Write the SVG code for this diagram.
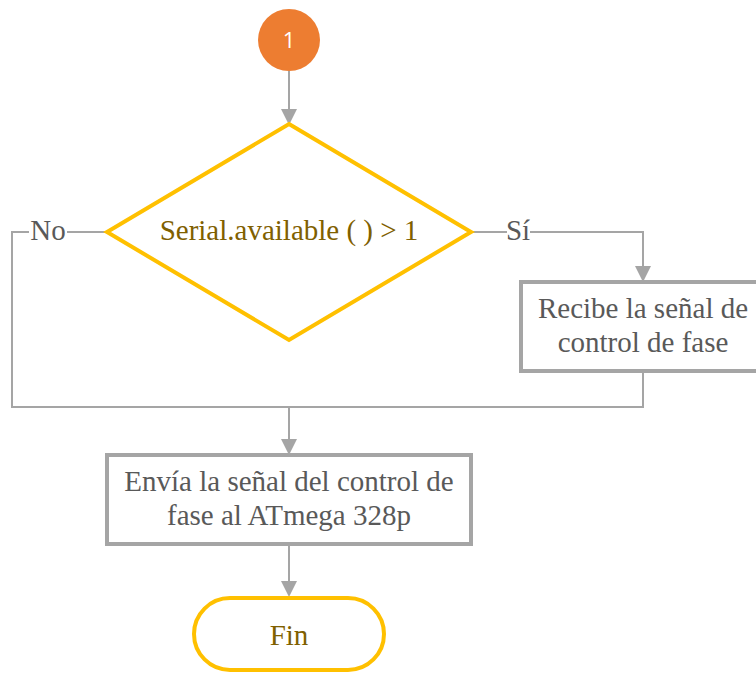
<svg xmlns="http://www.w3.org/2000/svg" width="756" height="674" viewBox="0 0 756 674">
<defs>
<style>
.conn{fill:none;stroke:#A5A5A5;stroke-width:2}
.box{fill:#fff;stroke:#A5A5A5;stroke-width:4}
.gold{fill:#fff;stroke:#FFC000;stroke-width:4}
.t{text-anchor:middle}
.grey{fill:#595959}
.brown{fill:#7F6000}
</style>
<marker id="arr" markerWidth="8" markerHeight="8" refX="7" refY="4" orient="auto" markerUnits="strokeWidth">
<path d="M0,0 L8,4 L0,8 Z" fill="#A5A5A5"/>
</marker>
</defs>
<rect width="756" height="674" fill="#fff"/>
<g id="connectors">
<path class="conn" d="M289,71 V123" marker-end="url(#arr)"/>
<path class="conn" d="M107,232 H12 V407 H643 V372"/>
<path class="conn" d="M471,232 H643 V280" marker-end="url(#arr)"/>
<path class="conn" d="M289,407 V453" marker-end="url(#arr)"/>
<path class="conn" d="M289,546 V595" marker-end="url(#arr)"/>
<rect x="29" y="218" width="38" height="26" fill="#fff"/>
<text class="t grey" font-family="Liberation Serif" font-size="29" x="48" y="240">No</text>
<rect x="507" y="218" width="23" height="26" fill="#fff"/>
<text class="t grey" font-family="Liberation Serif" font-size="29" x="518" y="240">Sí</text>
</g>
<g id="start">
<circle cx="289" cy="40" r="31" fill="#ED7D31"/>
<text x="289" y="48" fill="#fff" font-family="Open Sans" font-size="22" text-anchor="middle">1</text>
</g>
<g id="decision">
<polygon class="gold" points="289,124 471,232 289,340 107,232"/>
<text class="t brown" font-family="Liberation Serif" font-size="29" x="289" y="240">Serial.available ( ) &gt; 1</text>
</g>
<g id="recibe">
<rect class="box" x="521" y="282" width="244" height="89"/>
<text class="t grey" font-family="Liberation Serif" font-size="29" x="643" y="318">Recibe la señal de</text>
<text class="t grey" font-family="Liberation Serif" font-size="29" x="643" y="352">control de fase</text>
</g>
<g id="envia">
<rect class="box" x="107" y="455" width="364" height="89"/>
<text class="t grey" font-family="Liberation Serif" font-size="29" x="289" y="491">Envía la señal del control de</text>
<text class="t grey" font-family="Liberation Serif" font-size="29" x="289" y="525">fase al ATmega 328p</text>
</g>
<g id="fin">
<rect class="gold" x="194" y="598" width="190" height="72" rx="36" ry="36"/>
<text class="t brown" font-family="Liberation Serif" font-size="29" x="289" y="645">Fin</text>
</g>
</svg>
